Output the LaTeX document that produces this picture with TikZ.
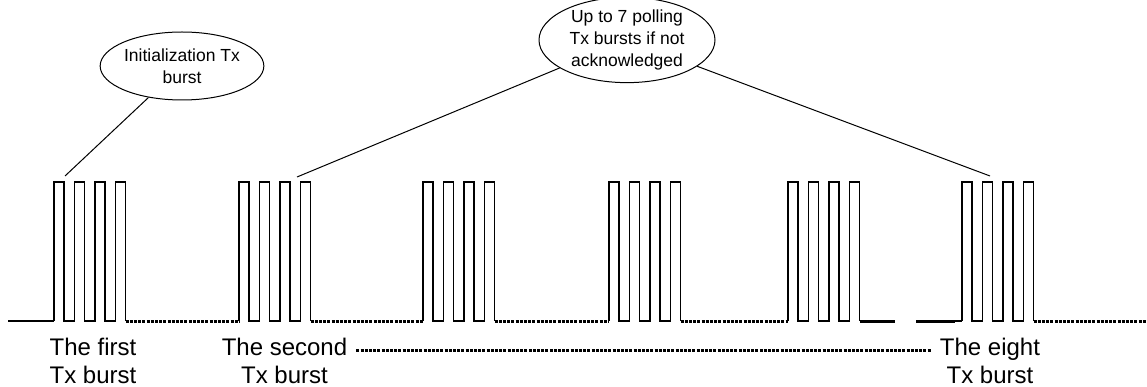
\documentclass[tikz,border=0pt]{standalone}
\usepackage{fontspec}
\setmainfont{Liberation Sans}
\usetikzlibrary{shapes.geometric}
\tikzset{
  pulse/.style={line width=1.8pt, line join=miter},
  dotline/.style={line width=3pt, dash pattern=on 3pt off 1.2pt},
  thickline/.style={line width=3pt},
  baseline solid/.style={line width=2.2pt},
  bubble/.style={draw, ellipse, line width=1pt, inner sep=0pt, align=center,
     font=\fontsize{17.5}{22}\selectfont},
  conn/.style={line width=1pt},
  lbl/.style={anchor=base, inner sep=0pt, font=\fontsize{24}{28}\selectfont}
}
\begin{document}
\begin{tikzpicture}[x=1pt,y=-1pt]
\useasboundingbox[fill=white] (0,0) rectangle (1147,387);

% bursts
\foreach \s in {54,239,423,609,788,962}{
  \draw[pulse] (\s,321) -- (\s,182) -- (\s+10,182) -- (\s+10,321)
     -- (\s+20.5,321) -- (\s+20.5,182) -- (\s+30.5,182) -- (\s+30.5,321)
     -- (\s+41,321) -- (\s+41,182) -- (\s+51,182) -- (\s+51,321)
     -- (\s+61.5,321) -- (\s+61.5,182) -- (\s+71.5,182) -- (\s+71.5,321);
}
% baseline segments
\draw[baseline solid] (8,321) -- (54,321);
\draw[dotline] (125.5,321) -- (239,321);
\draw[dotline] (310.5,321) -- (423,321);
\draw[dotline] (494.5,321) -- (609,321);
\draw[dotline] (680.5,321) -- (788,321);
\draw[thickline] (859.5,321) -- (895,321);
\draw[thickline] (916,321) -- (955,321);
\draw[pulse] (955,321) -- (962,321);
\draw[dotline] (1033.5,321) -- (1147,321);

% labels
\node[lbl] (first) at (93,355) {The first};
\node[lbl] (firstb) at (93,383) {Tx burst};
\node[lbl] (second) at (284.5,355) {The second};
\node[lbl] (secondb) at (284.5,383) {Tx burst};
\node[lbl] (eight) at (990,355) {The eight};
\node[lbl] (eightb) at (990,383) {Tx burst};
\draw[dotline] ([xshift=9pt,yshift=5pt]second.base east) -- ([xshift=-9pt,yshift=5pt]eight.base west);

% bubbles
\node[bubble, minimum width=150pt, minimum height=68pt] (e1) at (182,66) {Initialization Tx\\burst};
\node[bubble, minimum width=176pt, minimum height=75pt] (e2) at (627,40) {Up to 7 polling\\Tx bursts if not\\acknowledged};

\coordinate (t1) at (65,176);
\coordinate (t2) at (297,177);
\coordinate (t3) at (990,176);
\draw[conn] (e1) -- (t1);
\draw[conn] (e2) -- (t2);
\draw[conn] (e2) -- (t3);
\end{tikzpicture}
\end{document}
